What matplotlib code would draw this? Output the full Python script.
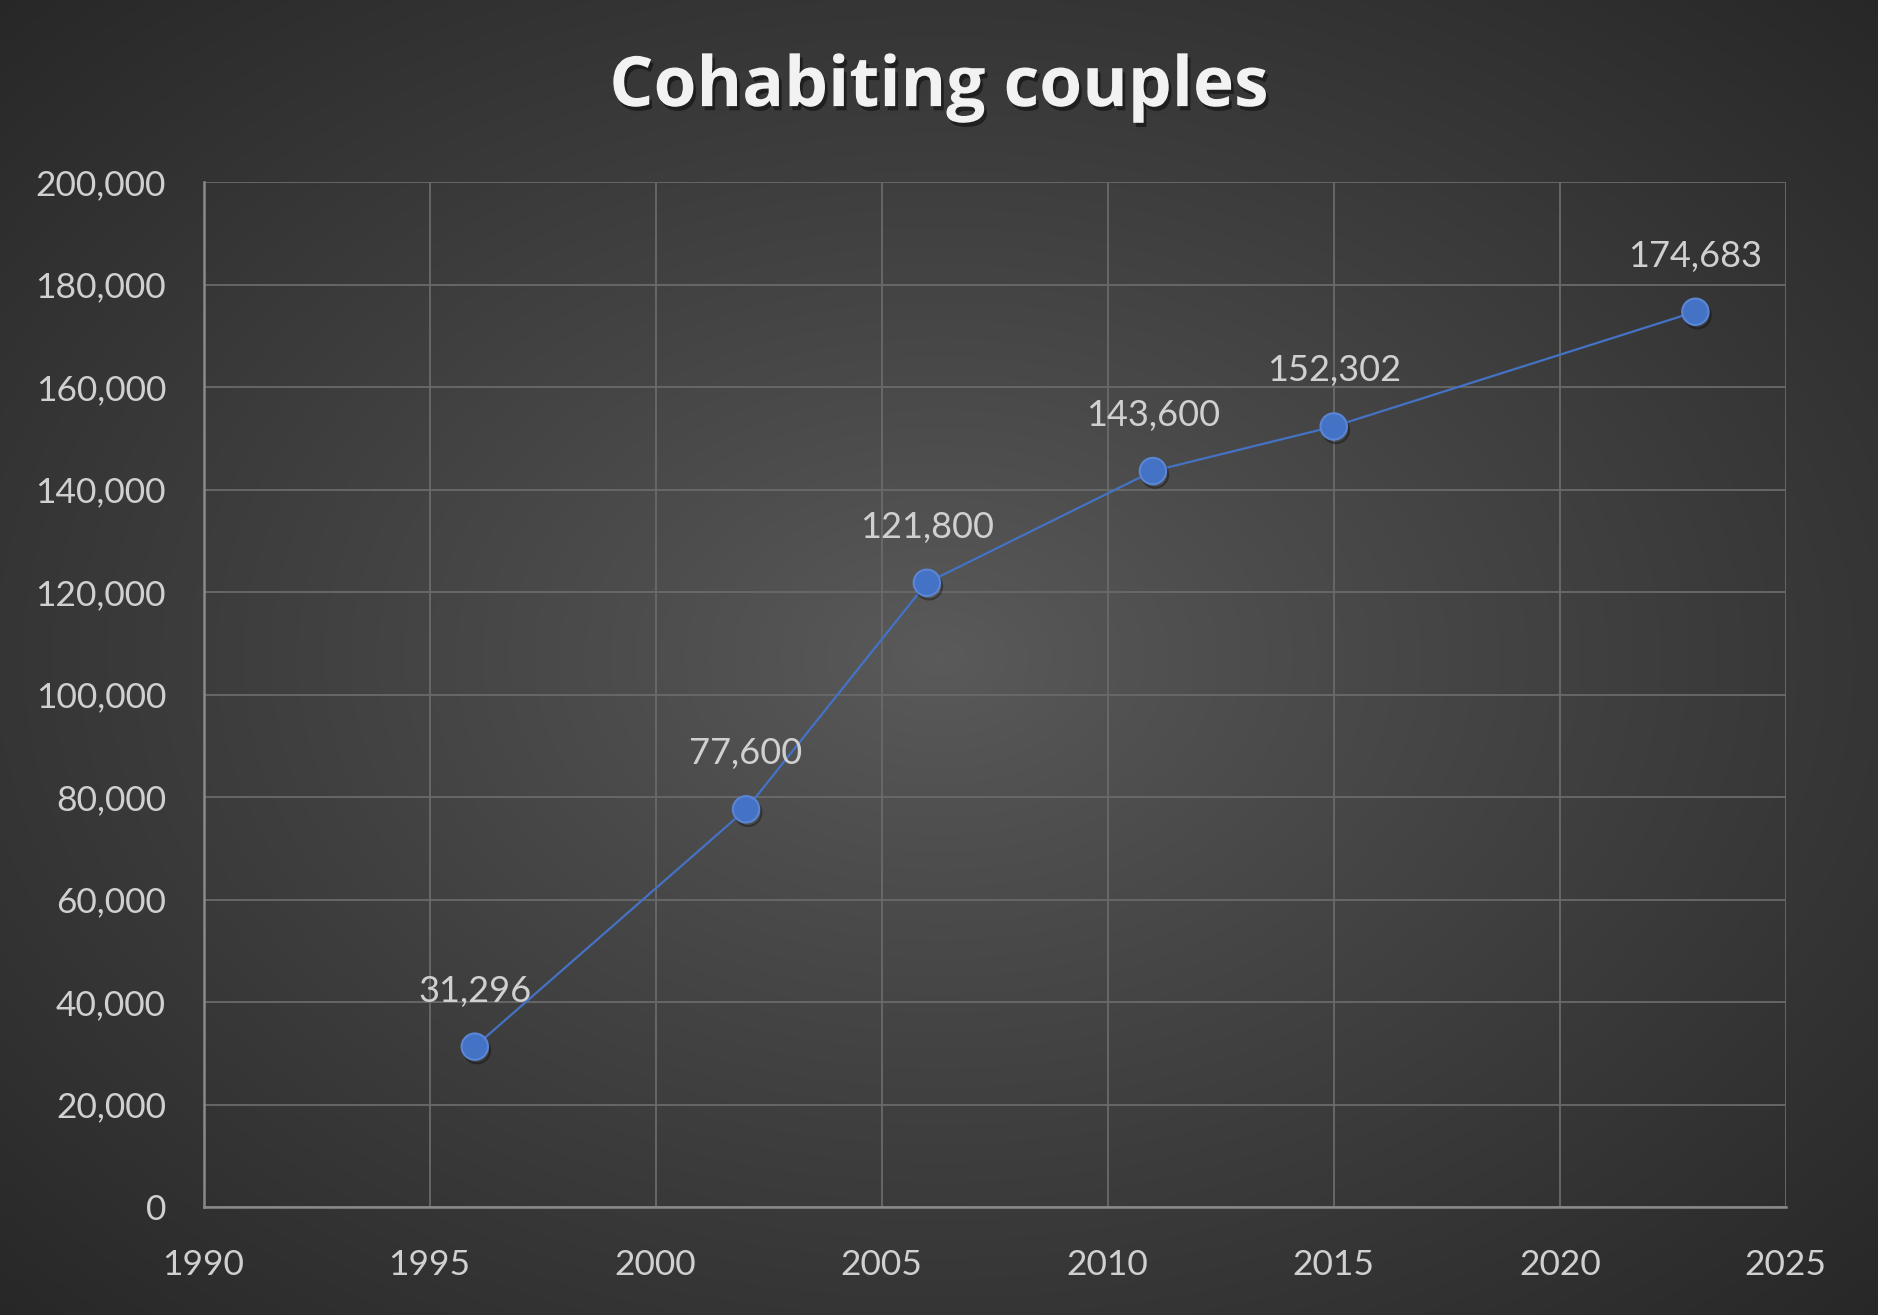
import numpy as np
import matplotlib.pyplot as plt
import matplotlib.patheffects as pe
from matplotlib.ticker import FuncFormatter, MultipleLocator

years = [1996, 2002, 2006, 2011, 2015, 2023]
couples = [31296, 77600, 121800, 143600, 152302, 174683]

title = "Cohabiting couples"
font = ["Lato", "DejaVu Sans"]
text_col = "#d0d0d0"

fig = plt.figure(figsize=(18.78, 13.15), dpi=100)

# radial gradient background
bg = fig.add_axes([0, 0, 1, 1], zorder=-10)
yy, xx = np.mgrid[-1:1:400j, -1:1:570j]
r = np.sqrt(xx ** 2 + yy ** 2) / np.sqrt(2)
shade = 0.355 - 0.2 * np.clip(r, 0, 1) ** 0.9
bg.imshow(np.dstack([shade] * 3), aspect="auto", extent=[0, 1, 0, 1], interpolation="bicubic")
bg.axis("off")

ax = fig.add_axes([0.1084, 0.0821, 0.8425, 0.7795])
ax.patch.set_alpha(0)
ax.plot(years, couples, color="#4472C4", lw=1.6, zorder=3)
ax.plot(years, couples, "o", ms=19, mfc="#4472C4", mec="#5b86d6", mew=1.5, zorder=4,
        path_effects=[pe.SimpleLineShadow(offset=(1.5, -2.5), alpha=0.35), pe.Normal()])

for x, y in zip(years, couples):
    ax.annotate(f"{y:,}", (x, y), xytext=(0, 40), textcoords="offset points",
                ha="center", va="center", fontsize=26, color=text_col, family=font, zorder=5)

ax.set_xlim(1990, 2025)
ax.set_ylim(0, 200000)
ax.xaxis.set_major_locator(MultipleLocator(5))
ax.yaxis.set_major_locator(MultipleLocator(20000))
ax.yaxis.set_major_formatter(FuncFormatter(lambda v, p: f"{int(v):,}"))
ax.grid(True, color="#6a6a6a", lw=1.3)
ax.set_axisbelow(True)
for s in ["top", "right"]:
    ax.spines[s].set_visible(False)
for s in ["left", "bottom"]:
    ax.spines[s].set_color("#8a8a8a")
    ax.spines[s].set_linewidth(1.8)
ax.tick_params(length=0, labelsize=25.5, colors=text_col)
ax.tick_params(axis="y", pad=27)
ax.tick_params(axis="x", pad=30)
for lab in ax.get_xticklabels() + ax.get_yticklabels():
    lab.set_family(font)

fig.text(0.5, 0.933, title, ha="center", va="center", fontsize=50, fontweight="bold",
         color="#f2f2f2", family=["Open Sans", "DejaVu Sans"],
         path_effects=[pe.withSimplePatchShadow(offset=(2, -3), shadow_rgbFace="black", alpha=0.45)])

fig.savefig("out.png", dpi=100)
